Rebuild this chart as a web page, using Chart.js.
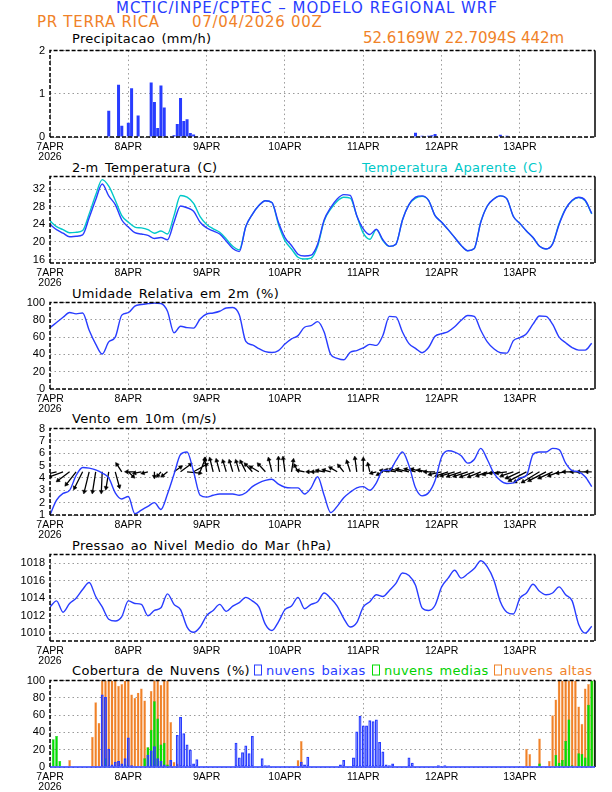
<!DOCTYPE html>
<html>
<head>
<meta charset="utf-8">
<title>Meteograma WRF - PR Terra Rica</title>
<script src="https://cdn.jsdelivr.net/npm/chart.js"></script>
<style>
    body { margin: 0; background: #fff; }
    #page { position: relative; width: 612px; height: 792px; overflow: hidden; font-family: "DejaVu Sans", sans-serif; }
    .txt { position: absolute; white-space: nowrap; line-height: 1; transform: translateY(-50%); }
    .hdr { font-size: 15px; }
    .ttl { font-size: 13px; color: #000; word-spacing: 2px; letter-spacing: 0.3px; }
    .sq { position: absolute; width: 6px; height: 9px; border: 1.4px solid; transform: translateY(-50%); }
    canvas { position: absolute; left: 0; }
</style>
</head>
<body>
<div id="page">
    <div class="txt hdr" style="left:307px;top:8px;color:rgb(40,60,255);letter-spacing:1px;transform:translate(-50%,-50%)">MCTIC/INPE/CPTEC – MODELO REGIONAL WRF</div>
    <div class="txt hdr" style="left:37px;top:22px;color:rgb(240,130,40);letter-spacing:0.7px">PR TERRA RICA</div>
    <div class="txt hdr" style="left:192px;top:22px;color:rgb(240,130,40);letter-spacing:0.7px">07/04/2026 00Z</div>
    <div class="txt hdr" style="left:363px;top:38px;color:rgb(240,130,40)">52.6169W 22.7094S 442m</div>

    <div class="txt ttl" style="left:72px;top:38px">Precipitacao (mm/h)</div>
    <div class="txt ttl" style="left:72px;top:167px">2-m Temperatura (C)</div>
    <div class="txt ttl" style="left:362px;top:167px;color:rgb(0,200,200)">Temperatura Aparente (C)</div>
    <div class="txt ttl" style="left:72px;top:293px">Umidade Relativa em 2m (%)</div>
    <div class="txt ttl" style="left:72px;top:418px">Vento em 10m (m/s)</div>
    <div class="txt ttl" style="left:72px;top:545px">Pressao ao Nivel Medio do Mar (hPa)</div>
    <div class="txt ttl" style="left:72px;top:670px">Cobertura de Nuvens (%)</div>
    <div class="sq" style="left:254px;top:670px;border-color:rgb(40,60,255)"></div>
    <div class="txt ttl" style="left:266px;top:670px;color:rgb(40,60,255)">nuvens baixas</div>
    <div class="sq" style="left:372px;top:670px;border-color:rgb(0,220,0)"></div>
    <div class="txt ttl" style="left:384px;top:670px;color:rgb(0,210,0)">nuvens medias</div>
    <div class="sq" style="left:494px;top:670px;border-color:rgb(240,130,40)"></div>
    <div class="txt ttl" style="left:504px;top:670px;color:rgb(240,130,40)">nuvens altas</div>

    <canvas id="cPrec" width="612" height="126" style="top:39px"></canvas>
    <canvas id="cTemp" width="612" height="126" style="top:165px"></canvas>
    <canvas id="cRh" width="612" height="126" style="top:291px"></canvas>
    <canvas id="cWind" width="612" height="126" style="top:417px"></canvas>
    <canvas id="cPres" width="612" height="126" style="top:543px"></canvas>
    <canvas id="cCloud" width="612" height="126" style="top:669px"></canvas>
</div>

<script>
    // eixo do tempo: horas desde 07/04 00Z
    const dayTicks = [0, 24, 48, 72, 96, 120, 144];
    const dayLabels = ['7APR', '8APR', '9APR', '10APR', '11APR', '12APR', '13APR'];
    const yearLabel = '2026';

    // precipitacao horaria (mm/h), h 0..167
    const precip = [
        0,0,0,0,0,0,0,0,0,0,0,0,0,0,0,0,0,0,0.61,0,0,1.21,0.26,0,
        0.33,1.13,0,0.50,0,0,0,1.26,0.81,0.21,1.19,0.68,0,0,0.04,0.30,0.90,0.37,0.41,0.09,0.06,0.02,0,0,
        0,0,0,0,0,0,0,0,0,0,0,0,0,0,0,0,0,0,0,0,0,0,0,0,
        0,0,0,0,0,0,0,0,0,0,0,0,0,0,0,0,0,0,0,0,0,0,0,0,
        0,0,0,0,0,0,0,0,0,0,0,0,0,0,0,0,0.10,0.02,0.03,0,0.03,0.04,0.07,0,
        0,0,0,0,0,0,0,0,0,0,0,0,0,0,0,0,0,0,0.05,0,0.03,0,0,0,
        0,0,0,0,0,0.01,0,0,0,0,0,0,0,0,0,0,0,0,0.01,0,0,0,0,0
    ];

    // series de 2 em 2 horas, h 0..166
    const tempMain = [
        24.0,22.8,22.0,21.2,21.3,21.6,25.5,29.6,33.2,30.5,28.5,25.0,
        23.4,22.1,21.8,21.5,20.8,21.0,20.5,24.5,28.2,27.8,27.0,24.5,
        23.2,22.5,21.8,20.2,18.5,17.8,23.5,26.3,28.3,29.4,29.0,24.5,
        21.0,19.2,17.2,16.8,17.0,19.5,25.0,27.8,29.8,30.8,30.6,26.0,
        23.0,21.7,22.9,20.5,19.0,19.5,25.0,28.5,30.2,30.5,29.5,26.0,
        24.5,22.8,21.0,19.2,18.0,18.5,24.5,28.2,29.8,30.5,29.8,25.8,
        24.2,22.5,21.0,19.0,18.4,19.5,24.0,27.5,29.5,30.2,29.5,26.5
    ];
    const tempApparent = [
        24.8,23.5,22.8,22.1,22.2,22.6,26.4,30.7,34.2,32.7,29.5,26.0,
        24.5,23.4,23.2,22.8,22.0,22.5,21.8,26.0,30.6,30.2,28.8,25.8,
        24.0,23.0,22.2,20.7,19.0,18.2,23.5,26.3,28.3,29.4,29.0,24.0,
        20.3,18.4,16.5,16.1,16.3,19.0,24.8,27.5,29.3,30.2,30.0,26.0,
        22.0,20.6,22.8,20.3,19.0,19.5,25.0,28.5,30.0,30.4,29.5,26.0,
        24.5,22.8,21.0,19.2,18.0,18.5,24.6,28.2,29.8,30.5,29.8,25.8,
        24.2,22.5,21.0,19.0,18.4,19.6,24.2,27.6,29.4,30.1,29.4,26.4
    ];
    const relHum = [
        71,77,83,88.5,87,88,68,52,40.5,54.5,60,85.5,
        88.3,96,97.8,98.8,99.5,99,90,65,72.6,71,70.5,81,
        86.8,88,90,93.8,94.4,86,55,51,46.8,43.2,42.2,44.5,
        52,58,61.8,71.5,73.3,78,66,40,35.5,33.8,42.5,44.5,
        47.5,51.7,50.5,62,84,83.5,66,52.5,47,42,48,61,
        64,66.5,72,79.5,85,84,68,54.5,46.5,42,41.5,56,
        59.5,64,75,84.5,84,75,60,53.5,48,45,45,53
    ];
    const windSpeed = [
        1.0,2.2,2.75,3.0,4.2,4.85,4.8,4.65,4.4,4.0,2.8,2.3,
        2.5,1.1,1.4,1.7,2.0,1.45,2.7,4.3,5.9,6.1,4.5,2.6,
        2.45,2.6,2.7,2.7,2.7,2.6,2.8,3.3,3.6,3.8,3.9,3.5,
        3.25,3.2,3.2,2.7,3.2,4.1,2.6,1.2,1.7,2.4,2.85,3.2,
        3.3,3.0,3.6,4.6,4.6,5.4,6.1,5.0,3.2,2.55,2.8,3.8,
        5.7,6.2,6.1,5.8,5.2,5.5,6.4,5.5,4.4,3.8,3.55,3.6,
        4.0,4.2,5.9,6.1,6.1,6.4,6.3,5.2,4.6,4.5,4.1,3.3
    ];
    // componentes do vetor vento (m/s)
    const windU = [
        -2.2,-2.9,-2.9,-2.6,-2.2,-1.8,-1.1,-0.7,-0.2,-0.6,0.9,-1.1,
        1.1,-1.8,-1.5,-1.1,0.0,-0.7,-1.1,1.5,2.2,2.9,2.9,1.1,
        -0.4,-0.7,-0.7,-0.7,-0.7,-0.7,-1.1,-1.5,-1.8,-1.5,-0.7,0.0,
        -0.4,0.4,-0.7,-1.5,-0.7,-1.1,-1.5,-1.5,-1.5,-1.1,-0.7,-0.4,
        0.0,-0.4,-1.1,-1.1,-1.8,-2.2,-2.6,-2.6,-2.2,-2.2,-2.2,-2.2,
        -2.6,-2.6,-2.9,-2.9,-2.9,-2.9,-2.6,-2.2,-2.2,-2.2,-2.2,-2.6,
        -2.9,-3.7,-4.0,-3.7,-3.7,-2.9,-2.2,-1.8,-1.8,-1.5,-1.5,-1.1
    ];
    const windV = [
        -0.6,-0.7,-1.1,-2.0,-2.9,-3.7,-4.6,-4.6,-4.6,-3.7,-3.4,1.7,
        -1.1,0.0,-0.3,-0.3,-1.1,-0.9,-0.9,1.1,1.7,-0.3,1.7,2.9,
        2.9,2.9,2.6,2.4,2.4,2.4,2.3,1.7,1.1,1.7,2.9,3.1,
        3.1,2.6,1.4,0.3,0.0,0.0,0.3,0.4,0.9,1.4,2.3,3.1,
        2.9,1.7,-0.3,-0.6,0.3,0.4,0.6,0.6,0.6,0.6,0.4,0.0,
        -0.6,-0.9,-0.9,-1.0,-1.0,-1.1,-1.1,-0.9,-0.6,-0.3,-0.3,-0.9,
        -1.4,-2.0,-2.3,-2.3,-2.0,-1.4,-0.9,-0.3,0.0,0.0,0.0,0.0
    ];
    const pressure = [
        1013.0,1013.7,1012.4,1013.4,1014.0,1015.0,1015.8,1014.2,1013.0,1011.6,1011.4,1011.9,
        1013.7,1013.4,1013.3,1012.0,1012.6,1012.9,1014.5,1013.3,1012.7,1010.7,1010.1,1010.7,
        1012.0,1012.6,1013.3,1012.5,1013.1,1013.5,1014.1,1013.7,1013.0,1011.0,1010.3,1011.3,
        1012.7,1013.1,1014.1,1012.8,1013.3,1013.6,1014.6,1014.0,1013.1,1011.7,1010.7,1011.2,
        1013.0,1013.6,1014.4,1014.2,1014.9,1015.7,1016.9,1016.6,1015.5,1012.9,1012.6,1013.2,
        1015.3,1016.3,1017.2,1016.3,1016.8,1017.4,1018.3,1017.6,1016.1,1013.6,1012.4,1012.2,
        1014.0,1014.6,1015.6,1014.8,1014.4,1014.6,1015.3,1014.4,1013.7,1011.0,1010.0,1010.8
    ];

    // cobertura de nuvens horaria (%), h 0..167
    const cloudLow = [
        0,0,0,0,0,0,0,0,0,0,0,0,0,0,0,0,84,81,21,3,6,7,4,10,
        34,2,0,0,0,0,14,19,24,10,7,3,0,8,0,37,58,39,26,20,4,9,0,0,
        0,0,0,0,0,0,0,0,0,28,11,17,25,16,36,0,0,10,2,2,0,0,0,0,
        0,0,0,0,0,6,3,12,0,0,0,0,0,0,0,0,0,3,8,0,0,11,41,59,
        48,48,54,53,55,29,18,3,2,4,0,0,0,0,11,5,0,0,0,0,0,0,0,2,
        0,2,0,0,0,0,0,0,0,0,0,0,0,0,0,0,0,0,0,0,0,0,0,0,
        0,0,0,0,0,0,0,0,0,0,0,0,0,0,0,0,0,0,0,0,0,0,0,0
    ];
    const cloudMid = [
        0,32,36,7,0,0,0,0,0,0,0,0,0,0,0,0,0,10,0,0,0,0,0,3,
        0,0,0,0,0,10,23,43,76,56,26,28,3,0,0,0,0,0,0,0,0,0,0,0,
        0,0,0,0,0,0,0,0,0,0,0,0,0,0,0,0,0,0,0,0,0,0,0,0,
        0,0,0,0,0,0,0,0,0,0,0,0,0,0,0,0,0,0,0,0,0,0,0,0,
        0,0,0,0,0,0,0,0,0,0,0,0,0,0,0,0,0,0,0,0,0,0,0,0,
        0,0,0,0,0,0,0,0,0,0,0,0,0,0,0,0,0,0,0,0,0,0,0,0,
        0,0,0,0,0,0,4,0,0,0,0,14,5,8,30,55,2,0,16,15,11,72,100,100
    ];
    const cloudHigh = [
        0,0,0,0,0,0,8,0,0,0,0,0,0,35,75,51,100,100,100,100,100,94,96,100,
        100,84,80,86,91,77,23,88,100,100,95,100,100,52,6,4,0,0,0,0,0,0,0,0,
        0,0,0,0,0,0,0,0,0,0,0,0,0,0,0,0,0,0,0,0,0,0,0,0,
        0,0,0,0,8,30,0,0,0,0,0,0,0,0,0,0,0,0,0,0,0,0,0,0,
        0,0,0,0,0,0,0,0,0,0,0,0,0,0,0,0,0,0,0,0,0,0,0,0,
        0,0,0,0,0,0,0,0,0,0,0,0,0,0,0,0,0,0,0,0,0,0,0,0,
        0,0,21,15,0,0,33,0,0,7,60,78,100,100,100,100,100,100,70,50,91,96,100,100
    ];

    const BLUE = 'rgb(40,60,255)';
    const CYAN = 'rgb(0,200,200)';
    const GRID = '#9a9a9a';
    const WIND_BASE = 4.5, ARROW_X = 1.36, ARROW_Y = 0.35;

    Chart.defaults.font.family = '"Liberation Sans", sans-serif';
    Chart.defaults.color = '#000';

    const barHours = precip.map((_, i) => i);
    const lineHours = tempMain.map((_, i) => i * 2);
    const pts = (xs, ys) => xs.map((x, i) => ({ x: x, y: ys[i] }));

    // moldura: topo/esquerda/base tracejados, direita continua
    const framePlugin = {
        id: 'frame',
        afterDatasetsDraw(chart, args, opts) {
            const ctx = chart.ctx, a = chart.chartArea;
            ctx.save();
            ctx.lineWidth = 1.5;
            ctx.strokeStyle = '#000';
            ctx.setLineDash([4, 2]);
            ctx.beginPath();
            ctx.moveTo(a.left, a.bottom);
            ctx.lineTo(a.left, a.top);
            ctx.lineTo(a.right, a.top);
            ctx.stroke();
            ctx.setLineDash([]);
            ctx.beginPath();
            ctx.moveTo(a.right, a.top);
            ctx.lineTo(a.right, a.bottom);
            ctx.stroke();
            if (opts.bottomColor) {
                ctx.strokeStyle = opts.bottomColor;
            } else {
                ctx.setLineDash([4, 2]);
            }
            ctx.beginPath();
            ctx.moveTo(a.left, a.bottom);
            ctx.lineTo(a.right, a.bottom);
            ctx.stroke();
            ctx.restore();
        }
    };

    function xAxis() {
        return {
            type: 'linear', min: 0, max: 167, offset: false,
            afterBuildTicks: s => { s.ticks = dayTicks.map(v => ({ value: v })); },
            afterFit: s => { s.height = 28; },
            ticks: {
                autoSkip: false, maxRotation: 0, padding: 5,
                font: { size: 10.5, lineHeight: 0.95 },
                callback: (v, i) => i === 0 ? [dayLabels[0], yearLabel] : dayLabels[i]
            },
            grid: { color: GRID, lineWidth: 1, drawTicks: false, offset: false },
            border: { display: false, dash: [1.5, 3] }
        };
    }

    function yAxis(min, max, tickValues) {
        return {
            min: min, max: max,
            afterBuildTicks: s => { s.ticks = tickValues.map(v => ({ value: v })); },
            afterFit: s => { s.width = 50; },
            ticks: { autoSkip: false, padding: 5, font: { size: 11 }, callback: v => String(v) },
            grid: { color: GRID, lineWidth: 1, drawTicks: false },
            border: { display: false, dash: [1.5, 3] }
        };
    }

    function panelOptions(y, frameOpts) {
        return {
            responsive: false,
            animation: false,
            layout: { padding: { left: 0, right: 17, top: 8, bottom: 0 } },
            plugins: { legend: { display: false }, tooltip: { enabled: false }, frame: frameOpts || {} },
            elements: { point: { radius: 0 } },
            scales: { x: xAxis(), y: y }
        };
    }

    function lineSet(data, color) {
        return { data: data, borderColor: color, borderWidth: 1.4, pointRadius: 0, cubicInterpolationMode: 'monotone' };
    }

    // Precipitacao
    new Chart(document.getElementById('cPrec'), {
        type: 'bar',
        data: { datasets: [{
            data: pts(barHours, precip), backgroundColor: BLUE,
            barPercentage: 0.92, categoryPercentage: 1, grouped: false
        }] },
        options: panelOptions(yAxis(0, 2, [0, 1, 2])),
        plugins: [framePlugin]
    });

    // Temperatura
    new Chart(document.getElementById('cTemp'), {
        type: 'line',
        data: { datasets: [
            lineSet(pts(lineHours, tempMain), BLUE),
            lineSet(pts(lineHours, tempApparent), CYAN)
        ] },
        options: panelOptions(yAxis(15.2, 34.9, [16, 20, 24, 28, 32])),
        plugins: [framePlugin]
    });

    // Umidade
    new Chart(document.getElementById('cRh'), {
        type: 'line',
        data: { datasets: [lineSet(pts(lineHours, relHum), BLUE)] },
        options: panelOptions(yAxis(0, 100, [0, 20, 40, 60, 80, 100])),
        plugins: [framePlugin]
    });

    // Vento: velocidade + vetores
    const shaftPts = [];
    const headPts = [];
    lineHours.forEach((h, i) => {
        const tx = h + windU[i] * ARROW_X;
        const ty = WIND_BASE + windV[i] * ARROW_Y;
        shaftPts.push({ x: h, y: WIND_BASE }, { x: tx, y: ty }, { x: tx, y: null });
        headPts.push({ x: tx, y: ty, bx: h });
    });

    new Chart(document.getElementById('cWind'), {
        type: 'line',
        data: { datasets: [
            lineSet(pts(lineHours, windSpeed), BLUE),
            { data: shaftPts, borderColor: '#000', borderWidth: 1.3, pointRadius: 0, spanGaps: false, tension: 0 },
            {
                data: headPts, showLine: false, pointStyle: 'triangle', pointRadius: 2.4,
                pointBackgroundColor: '#000', pointBorderColor: '#000', pointBorderWidth: 0.5,
                pointRotation: c => {
                    const p = headPts[c.dataIndex];
                    if (!p) return 0;
                    const xs = c.chart.scales.x, ys = c.chart.scales.y;
                    const dx = xs.getPixelForValue(p.x) - xs.getPixelForValue(p.bx);
                    const dy = ys.getPixelForValue(p.y) - ys.getPixelForValue(WIND_BASE);
                    return Math.atan2(dx, -dy) * 180 / Math.PI;
                }
            }
        ] },
        options: panelOptions(yAxis(1, 8, [1, 2, 3, 4, 5, 6, 7, 8])),
        plugins: [framePlugin]
    });

    // Pressao
    new Chart(document.getElementById('cPres'), {
        type: 'line',
        data: { datasets: [lineSet(pts(lineHours, pressure), BLUE)] },
        options: panelOptions(yAxis(1009.1, 1019.0, [1010, 1012, 1014, 1016, 1018])),
        plugins: [framePlugin]
    });

    // Nuvens
    new Chart(document.getElementById('cCloud'), {
        type: 'bar',
        data: { datasets: [
            { data: pts(barHours, cloudLow), backgroundColor: 'rgba(0,0,0,0)', borderColor: BLUE,
              borderWidth: 1.3, borderSkipped: false, barPercentage: 0.9, categoryPercentage: 1, grouped: false },
            { data: pts(barHours, cloudMid), backgroundColor: 'rgb(0,225,0)', borderColor: 'rgb(0,170,0)',
              borderWidth: 0.4, barPercentage: 0.85, categoryPercentage: 1, grouped: false },
            { data: pts(barHours, cloudHigh), backgroundColor: 'rgb(240,130,40)', borderColor: 'rgb(248,170,110)',
              borderWidth: 0.4, barPercentage: 0.85, categoryPercentage: 1, grouped: false }
        ] },
        options: panelOptions(yAxis(0, 100, [0, 20, 40, 60, 80, 100]), { bottomColor: BLUE }),
        plugins: [framePlugin]
    });
</script>
</body>
</html>
